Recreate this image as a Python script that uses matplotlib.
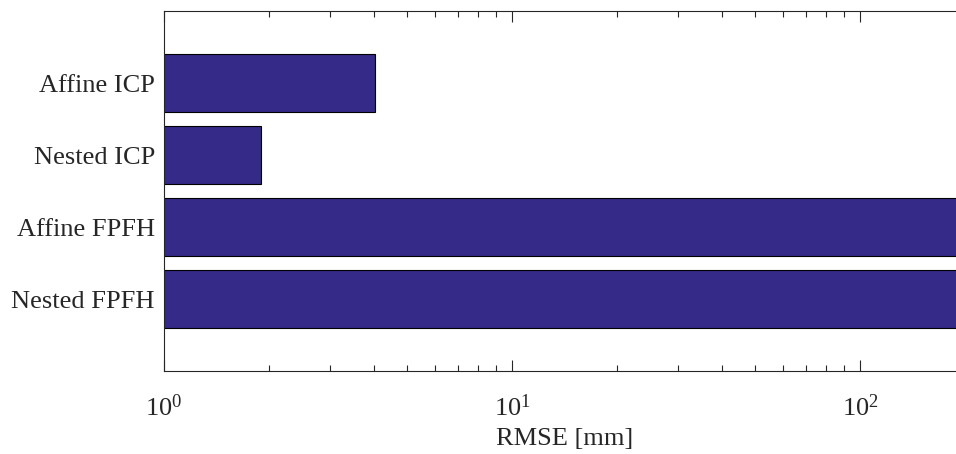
import matplotlib
matplotlib.use("Agg")
import matplotlib.pyplot as plt

methods = ["Nested FPFH", "Affine FPFH", "Nested ICP", "Affine ICP"]
rmse_mm = [260.0, 240.0, 1.9, 4.04]
positions = [1, 2, 3, 4]

plt.rcParams["font.family"] = ["Liberation Serif", "DejaVu Serif"]
plt.rcParams["mathtext.fontset"] = "custom"
plt.rcParams["mathtext.rm"] = "Liberation Serif"
plt.rcParams["mathtext.it"] = "Liberation Serif:italic"

fig = plt.figure(figsize=(9.56, 4.54), dpi=100)
# axes runs a little past the right edge of the figure, as in the original
ax = fig.add_axes([164 / 956, (454 - 371) / 454, (965 - 164) / 956, 360 / 454])

ax.barh(positions, rmse_mm, height=0.8, left=0, color="#352a87",
        edgecolor="black", linewidth=0.8)
ax.set_xscale("log")
ax.set_xlim(1, 200)
ax.set_ylim(0, 5)
ax.set_yticks(positions)
ax.set_yticklabels(methods, fontsize=19, color="#262626")
ax.set_xlabel("RMSE [mm]", fontsize=19, color="#262626", labelpad=5)

ax.tick_params(axis="x", which="both", direction="in", top=True, bottom=True,
               labelsize=19, colors="#262626", pad=17)
ax.tick_params(axis="x", which="major", length=8, width=0.8)
ax.tick_params(axis="x", which="minor", length=4, width=0.8)
ax.tick_params(axis="y", length=0, pad=6.5)

ax.spines["right"].set_visible(False)
for s in ["left", "top", "bottom"]:
    ax.spines[s].set_color("#262626")
    ax.spines[s].set_linewidth(0.8)

fig.savefig("out.png", dpi=100)
